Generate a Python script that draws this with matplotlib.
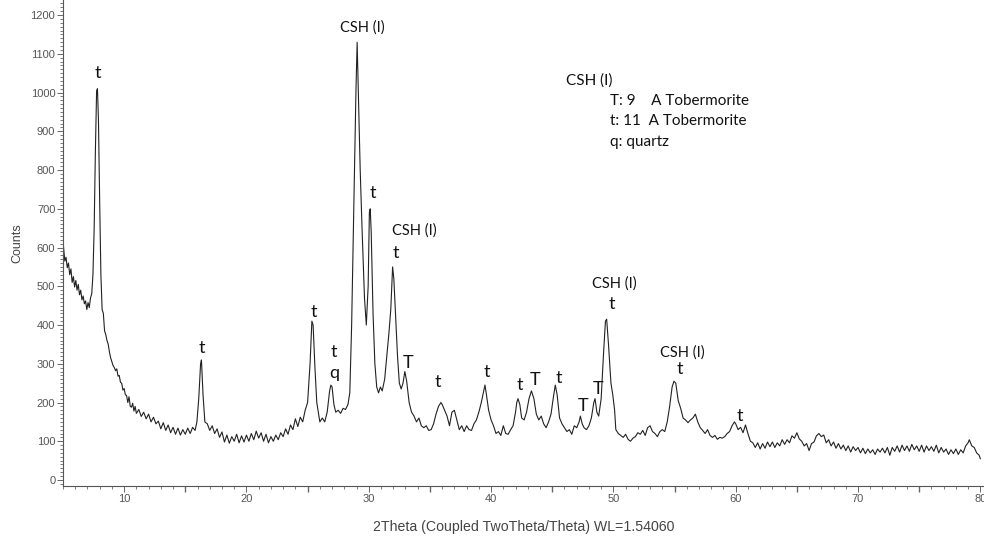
import matplotlib
matplotlib.use("Agg")
import matplotlib.pyplot as plt
from matplotlib.ticker import MultipleLocator

# diffractogram (2theta, counts)
two_theta = [
    5.00, 5.05, 5.15, 5.25, 5.35, 5.45, 5.55, 5.65, 5.75, 5.85, 5.95, 6.05, 6.15, 6.25, 6.35,
    6.45, 6.55, 6.65, 6.75, 6.85, 6.95, 7.05, 7.15, 7.25, 7.35, 7.45, 7.55, 7.65, 7.75, 7.82,
    7.90, 8.00, 8.10, 8.20, 8.30, 8.40, 8.50, 8.60, 8.70, 8.80, 8.90, 9.00, 9.10, 9.20, 9.30,
    9.40, 9.50, 9.60, 9.70, 9.80, 9.90, 10.0, 10.1, 10.2, 10.3, 10.4, 10.5, 10.6, 10.7, 10.8,
    10.9, 11.0, 11.2, 11.4, 11.6, 11.8, 12.0, 12.2, 12.4, 12.6, 12.8, 13.0, 13.2, 13.4, 13.6,
    13.8, 14.0, 14.2, 14.4, 14.6, 14.8, 15.0, 15.2, 15.4, 15.6, 15.8, 15.95, 16.1, 16.25, 16.32,
    16.45, 16.6, 16.8, 17.0, 17.2, 17.4, 17.6, 17.8, 18.0, 18.2, 18.4, 18.6, 18.8, 19.0, 19.2,
    19.4, 19.6, 19.8, 20.0, 20.2, 20.4, 20.6, 20.8, 21.0, 21.2, 21.4, 21.6, 21.8, 22.0, 22.2,
    22.4, 22.6, 22.8, 23.0, 23.2, 23.4, 23.6, 23.8, 24.0, 24.2, 24.4, 24.6, 24.8, 25.0, 25.2,
    25.35, 25.45, 25.6, 25.75, 25.9, 26.0, 26.2, 26.4, 26.6, 26.8, 26.9, 27.0, 27.15, 27.3, 27.5,
    27.7, 27.9, 28.1, 28.3, 28.45, 28.6, 28.8, 28.95, 29.05, 29.15, 29.3, 29.45, 29.55, 29.65, 29.8,
    29.95, 30.05, 30.12, 30.2, 30.35, 30.5, 30.65, 30.8, 30.95, 31.1, 31.3, 31.5, 31.65, 31.8, 31.95,
    32.05, 32.2, 32.35, 32.5, 32.65, 32.8, 32.95, 33.1, 33.3, 33.5, 33.7, 33.9, 34.1, 34.3, 34.5,
    34.7, 34.9, 35.1, 35.3, 35.5, 35.7, 35.9, 36.0, 36.2, 36.4, 36.6, 36.8, 37.0, 37.2, 37.4,
    37.6, 37.8, 38.0, 38.2, 38.4, 38.6, 38.8, 39.0, 39.2, 39.4, 39.5, 39.6, 39.8, 40.0, 40.2,
    40.4, 40.6, 40.8, 41.0, 41.2, 41.4, 41.6, 41.8, 42.0, 42.1, 42.2, 42.35, 42.5, 42.7, 42.9,
    43.1, 43.3, 43.5, 43.7, 43.9, 44.1, 44.3, 44.5, 44.7, 44.9, 45.1, 45.25, 45.4, 45.6, 45.8,
    46.0, 46.2, 46.4, 46.6, 46.8, 47.0, 47.2, 47.3, 47.45, 47.6, 47.8, 48.0, 48.2, 48.4, 48.5,
    48.65, 48.8, 49.0, 49.2, 49.35, 49.45, 49.6, 49.8, 49.95, 50.1, 50.2, 50.4, 50.6, 50.8, 51.0,
    51.2, 51.4, 51.6, 51.8, 52.0, 52.2, 52.4, 52.6, 52.8, 53.0, 53.2, 53.4, 53.6, 53.8, 54.0,
    54.2, 54.4, 54.6, 54.8, 54.95, 55.1, 55.3, 55.5, 55.7, 55.9, 56.1, 56.3, 56.5, 56.7, 56.9,
    57.1, 57.3, 57.5, 57.7, 57.9, 58.1, 58.3, 58.5, 58.7, 58.9, 59.1, 59.3, 59.5, 59.7, 59.9,
    60.0, 60.2, 60.4, 60.6, 60.8, 61.0, 61.2, 61.4, 61.6, 61.8, 62.0, 62.2, 62.4, 62.6, 62.8,
    63.0, 63.2, 63.4, 63.6, 63.8, 64.0, 64.2, 64.4, 64.6, 64.8, 65.0, 65.2, 65.4, 65.6, 65.8,
    66.0, 66.2, 66.4, 66.6, 66.8, 67.0, 67.2, 67.4, 67.6, 67.8, 68.0, 68.2, 68.4, 68.6, 68.8,
    69.0, 69.2, 69.4, 69.6, 69.8, 70.0, 70.2, 70.4, 70.6, 70.8, 71.0, 71.2, 71.4, 71.6, 71.8,
    72.0, 72.2, 72.4, 72.6, 72.8, 73.0, 73.2, 73.4, 73.6, 73.8, 74.0, 74.2, 74.4, 74.6, 74.8,
    75.0, 75.2, 75.4, 75.6, 75.8, 76.0, 76.2, 76.4, 76.6, 76.8, 77.0, 77.2, 77.4, 77.6, 77.8,
    78.0, 78.2, 78.4, 78.6, 78.8, 79.0, 79.1, 79.3, 79.5, 79.7, 79.9, 80.0,
]
counts = [
    625, 600, 565, 575, 548, 560, 530, 545, 510, 525, 498, 515, 490, 505, 478,
    490, 465, 475, 455, 462, 440, 458, 445, 470, 480, 530, 650, 850, 1005, 1010,
    930, 720, 530, 440, 430, 385, 375, 360, 350, 330, 315, 305, 295, 290, 282,
    287, 268, 270, 252, 250, 232, 236, 220, 218, 200, 215, 190, 188, 198, 178,
    190, 172, 182, 164, 175, 158, 170, 150, 162, 145, 152, 132, 148, 128, 142,
    122, 136, 118, 134, 116, 130, 118, 134, 120, 136, 128, 150, 210, 300, 310,
    220, 150, 145, 128, 140, 120, 132, 110, 124, 98, 116, 95, 112, 100, 118,
    96, 114, 98, 116, 100, 120, 104, 126, 108, 122, 100, 118, 96, 112, 100,
    116, 104, 122, 112, 132, 118, 142, 130, 158, 138, 162, 150, 180, 200, 300,
    410, 400, 290, 200, 170, 150, 160, 150, 175, 230, 245, 240, 195, 175, 180,
    172, 185, 182, 195, 225, 400, 750, 1000, 1130, 1000, 800, 650, 560, 470, 400,
    500, 690, 700, 640, 430, 300, 240, 225, 240, 230, 260, 330, 380, 440, 550,
    520, 420, 320, 250, 235, 250, 280, 255, 200, 175, 165, 150, 160, 140, 135,
    140, 128, 130, 145, 170, 190, 200, 195, 180, 165, 140, 175, 180, 155, 130,
    140, 125, 140, 130, 128, 145, 155, 175, 200, 230, 245, 225, 180, 155, 140,
    120, 125, 115, 140, 120, 118, 130, 140, 175, 200, 210, 195, 160, 155, 175,
    210, 230, 210, 170, 155, 165, 145, 135, 150, 170, 215, 245, 220, 160, 145,
    135, 125, 130, 118, 140, 135, 150, 165, 145, 135, 130, 140, 160, 200, 210,
    175, 165, 210, 330, 410, 415, 350, 250, 220, 180, 130, 120, 115, 110, 118,
    105, 100, 108, 112, 122, 118, 128, 115, 135, 140, 125, 120, 112, 125, 130,
    125, 150, 190, 240, 255, 250, 205, 185, 160, 155, 148, 155, 160, 170, 150,
    135, 128, 120, 130, 115, 110, 115, 105, 110, 108, 112, 120, 125, 140, 150,
    145, 130, 136, 122, 142, 120, 100, 96, 84, 96, 80, 94, 82, 98, 86,
    98, 84, 96, 88, 104, 92, 104, 96, 114, 108, 122, 106, 100, 88, 94,
    76, 94, 98, 114, 120, 112, 116, 96, 104, 88, 98, 82, 94, 80, 90,
    76, 88, 72, 86, 76, 84, 70, 82, 68, 80, 70, 78, 66, 80, 72,
    82, 70, 84, 64, 84, 74, 88, 72, 90, 76, 88, 74, 92, 78, 88,
    74, 90, 72, 88, 76, 86, 74, 90, 70, 84, 72, 80, 66, 78, 68,
    80, 66, 78, 70, 88, 96, 104, 88, 84, 70, 64, 55,
]

# phase labels: text, x, y
peak_labels = ["t", "CSH (I)", "t", "CSH (I)", "t", "t", "t", "t", "q", "T", "t", "t",
               "t", "T", "t", "T", "T", "CSH (I)", "t", "CSH (I)", "t", "t"]
label_x = [7.86, 29.5, 30.35, 33.7, 32.2, 16.37, 25.5, 27.16, 27.16, 33.2, 35.66, 39.67,
           42.37, 43.6, 45.5, 47.5, 48.74, 50.1, 49.9, 55.6, 55.4, 60.3]
label_y = [1050, 1169, 741, 643, 586, 341, 434, 330, 276, 302, 253, 279,
           245, 258, 263, 191, 235, 508, 454, 330, 286, 165]

key_lines = ["CSH (I)", "T: 9    A Tobermorite", "t: 11  A Tobermorite", "q: quartz"]
key_x = [46.1, 49.75, 49.75, 49.75]
key_y = [1032, 978, 926, 872]

fig = plt.figure(figsize=(9.84, 5.4), dpi=100)
ax = fig.add_axes([0.064, 0.1, 0.936, 0.9])

ax.plot(two_theta, counts, color="#222222", linewidth=0.8)

for txt, x, y in zip(peak_labels, label_x, label_y):
    small = txt.startswith("CSH")
    ax.text(x, y, txt, ha="center", va="center", family="Lato",
            fontsize=10.5 if small else 13, color="#111111")

for txt, x, y in zip(key_lines, key_x, key_y):
    ax.text(x, y, txt, ha="left", va="center", family="Lato", fontsize=11, color="#111111")

ax.set_xlim(5, 80.3)
ax.set_ylim(-15.5, 1239)
ax.xaxis.set_major_locator(MultipleLocator(10))
ax.xaxis.set_minor_locator(MultipleLocator(1))
ax.yaxis.set_major_locator(MultipleLocator(100))
ax.yaxis.set_minor_locator(MultipleLocator(10))
ax.set_yticks(range(0, 1201, 100))

for s in ["top", "right"]:
    ax.spines[s].set_visible(False)
for s in ["left", "bottom"]:
    ax.spines[s].set_color("#555555")
    ax.spines[s].set_linewidth(0.8)

ax.tick_params(which="major", length=4, width=0.7, color="#666666", labelsize=8,
               labelcolor="#555555", labelfontfamily="Liberation Sans")
ax.tick_params(which="minor", length=2.2, width=0.6, color="#666666")
ax.tick_params(axis="x", which="major", pad=1.5)
ax.tick_params(axis="y", which="major", pad=1.5)

# mid ticks at 15, 25, ...
for xm in range(15, 80, 10):
    ax.plot([xm], [-15.5], marker=3, markersize=4, color="#666666",
            clip_on=False, linestyle="none")

ax.set_xlabel("2Theta (Coupled TwoTheta/Theta) WL=1.54060", fontsize=10.2,
              color="#444444", family="Liberation Sans", labelpad=12)
ax.set_ylabel("Counts", fontsize=9, color="#444444", family="Liberation Sans", labelpad=5)

fig.savefig("out.png", dpi=100)
